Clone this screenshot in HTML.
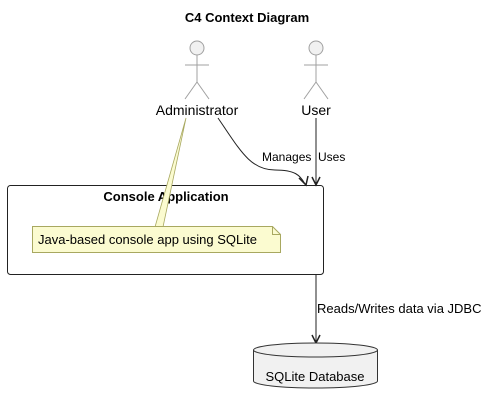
<!DOCTYPE html>
<html><head><style>body{margin:0;background:#fff}svg{display:block}</style></head><body>
<svg width="494" height="404" xmlns="http://www.w3.org/2000/svg" font-family="Liberation Sans, sans-serif">
<text x="247" y="22" text-anchor="middle" font-size="13" font-weight="bold">C4 Context Diagram</text>
<g stroke="#a0a0a0" fill="#f1f1f1" stroke-width="1">
<circle cx="197" cy="48" r="7"/>
<line x1="197" y1="55" x2="197" y2="82"/><line x1="185" y1="65" x2="209" y2="65"/>
<line x1="197" y1="82" x2="185" y2="99"/><line x1="197" y1="82" x2="209" y2="99"/>
<circle cx="316" cy="48" r="7"/>
<line x1="316" y1="55" x2="316" y2="82"/><line x1="304" y1="65" x2="328" y2="65"/>
<line x1="316" y1="82" x2="304" y2="99"/><line x1="316" y1="82" x2="328" y2="99"/>
</g>
<text x="197" y="115" text-anchor="middle" font-size="14">Administrator</text>
<text x="316" y="115" text-anchor="middle" font-size="14">User</text>
<rect x="7.5" y="185.5" width="316" height="89" rx="3" fill="#fff" stroke="#222"/>
<text x="166" y="201" text-anchor="middle" font-size="13" font-weight="bold">Console Application</text>
<polygon points="186,118 155,227 163,227" fill="#fbfbd0" stroke="#a8a860" stroke-width="0.8"/>
<path d="M32.5,226.5 H272.5 L280.5,234.5 V252.5 H32.5 Z" fill="#fbfbd0" stroke="#a8a860"/>
<path d="M272.5,226.5 V234.5 H280.5" fill="none" stroke="#a8a860"/>
<text x="38" y="244" font-size="13">Java-based console app using SQLite</text>
<path d="M218,118 C240,150 250,170 275,170 C295,170 300,175 305,184" fill="none" stroke="#222" stroke-width="1"/>
<path d="M299,178 L306,185 L308,176" fill="none" stroke="#222" stroke-width="1.5"/>
<text x="262" y="161" font-size="12">Manages</text>
<line x1="316" y1="118" x2="316" y2="184" stroke="#222"/>
<path d="M312,177 L316,185 L320,177" fill="none" stroke="#222" stroke-width="1.5"/>
<text x="318" y="161" font-size="12">Uses</text>
<line x1="316" y1="275" x2="316" y2="342" stroke="#222"/>
<path d="M312,335 L316,343 L320,335" fill="none" stroke="#222" stroke-width="1.5"/>
<text x="317" y="313" font-size="13">Reads/Writes data via JDBC</text>
<path d="M253.5,350 V381 A62,7 0 0 0 377.5,381 V350" fill="#f1f1f1" stroke="#333"/>
<ellipse cx="315.5" cy="350" rx="62" ry="7" fill="#f1f1f1" stroke="#333"/>
<text x="315" y="381" text-anchor="middle" font-size="13">SQLite Database</text>
</svg>
</body></html>
